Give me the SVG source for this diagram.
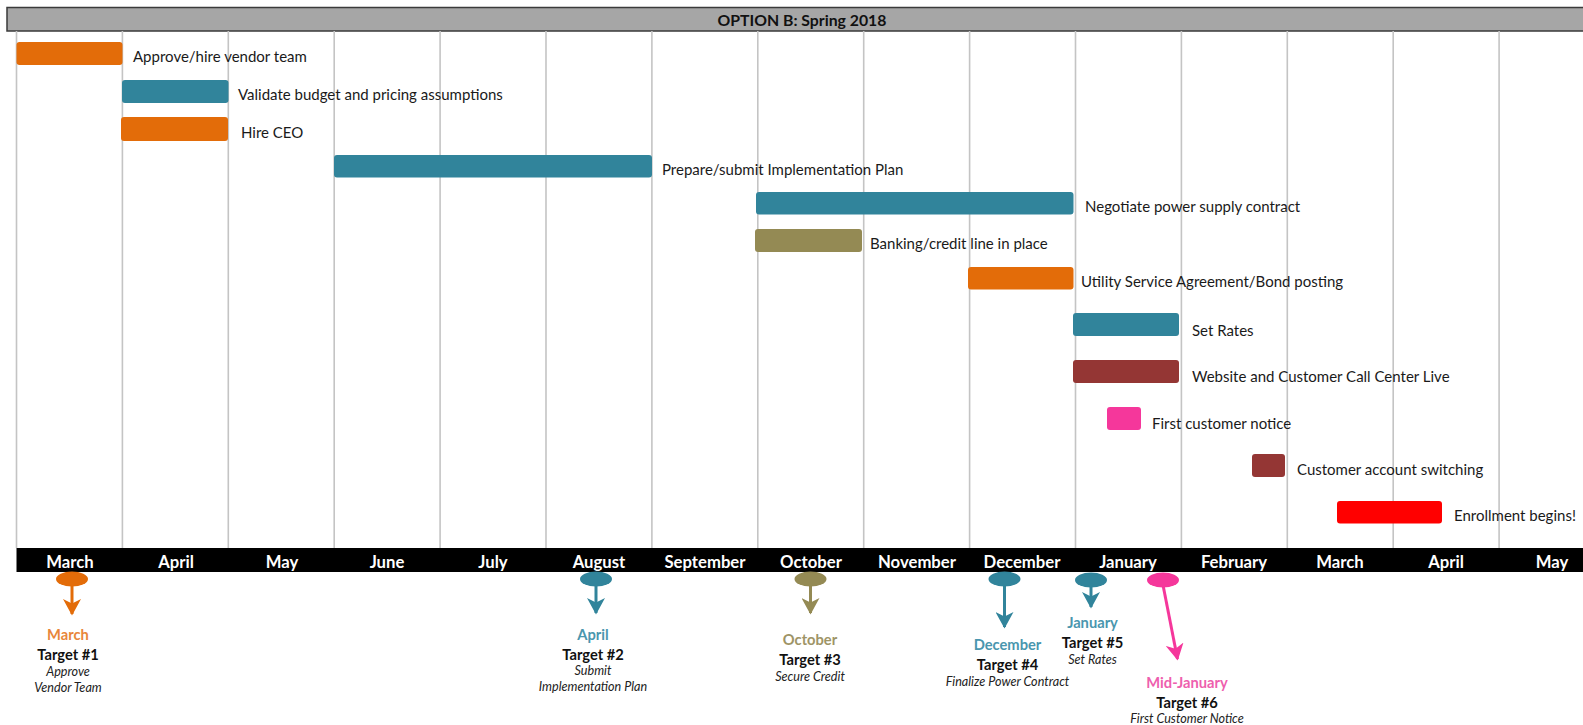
<svg xmlns="http://www.w3.org/2000/svg" width="1583" height="725" viewBox="0 0 1583 725">
<style>
text{font-family:Lato,"Open Sans","Liberation Sans",sans-serif}
.lbl{font-size:15px;fill:#1a1a1a}
.mon{font-size:16.7px;font-weight:bold;fill:#fff;text-anchor:middle}
.grid{stroke:#c4c4c4;stroke-width:1.6}
.bar{rx:3;ry:3}
.tt{font-size:14.7px;font-weight:bold;fill:#111;text-anchor:middle}
.tm{font-size:14.7px;font-weight:bold;text-anchor:middle}
.td{font-size:12.6px;font-style:italic;fill:#222;text-anchor:middle}
.or{fill:#E36C09}.te{fill:#31849B}.ol{fill:#948A54}.dr{fill:#943634}.pk{fill:#F5379B}.rd{fill:#FF0000}
</style>
<defs>
<marker id="ah-or" markerWidth="6" markerHeight="6" refX="5" refY="3" orient="auto" markerUnits="strokeWidth"><path d="M0,0 L5.5,3 L0,6 L1.5,3 Z" fill="#E36C09"/></marker>
<marker id="ah-te" markerWidth="6" markerHeight="6" refX="5" refY="3" orient="auto" markerUnits="strokeWidth"><path d="M0,0 L5.5,3 L0,6 L1.5,3 Z" fill="#31849B"/></marker>
<marker id="ah-ol" markerWidth="6" markerHeight="6" refX="5" refY="3" orient="auto" markerUnits="strokeWidth"><path d="M0,0 L5.5,3 L0,6 L1.5,3 Z" fill="#948A54"/></marker>
<marker id="ah-pk" markerWidth="6" markerHeight="6" refX="5" refY="3" orient="auto" markerUnits="strokeWidth"><path d="M0,0 L5.5,3 L0,6 L1.5,3 Z" fill="#F5379B"/></marker>
</defs>
<rect width="1583" height="725" fill="#fff"/>

<g id="header">
<rect x="7" y="7.5" width="1580" height="23.5" fill="#a6a6a6" stroke="#3a3a3a" stroke-width="1.5"/>
<text x="802" y="25.5" font-size="15.8" font-weight="bold" text-anchor="middle" fill="#111">OPTION B: Spring 2018</text>
</g>

<g id="grid">
<line class="grid" x1="16.5" y1="31" x2="16.5" y2="548"/>
<line class="grid" x1="122.4" y1="31" x2="122.4" y2="548"/>
<line class="grid" x1="228.3" y1="31" x2="228.3" y2="548"/>
<line class="grid" x1="334.2" y1="31" x2="334.2" y2="548"/>
<line class="grid" x1="440.1" y1="31" x2="440.1" y2="548"/>
<line class="grid" x1="546" y1="31" x2="546" y2="548"/>
<line class="grid" x1="651.9" y1="31" x2="651.9" y2="548"/>
<line class="grid" x1="757.8" y1="31" x2="757.8" y2="548"/>
<line class="grid" x1="863.7" y1="31" x2="863.7" y2="548"/>
<line class="grid" x1="969.6" y1="31" x2="969.6" y2="548"/>
<line class="grid" x1="1075.5" y1="31" x2="1075.5" y2="548"/>
<line class="grid" x1="1181.4" y1="31" x2="1181.4" y2="548"/>
<line class="grid" x1="1287.3" y1="31" x2="1287.3" y2="548"/>
<line class="grid" x1="1393.2" y1="31" x2="1393.2" y2="548"/>
<line class="grid" x1="1499.1" y1="31" x2="1499.1" y2="548"/>
</g>

<g id="months">
<rect x="16.5" y="548" width="1570" height="24" fill="#000"/>
<text class="mon" x="70" y="567.5">March</text>
<text class="mon" x="176" y="567.5">April</text>
<text class="mon" x="282" y="567.5">May</text>
<text class="mon" x="387" y="567.5">June</text>
<text class="mon" x="493" y="567.5">July</text>
<text class="mon" x="599" y="567.5">August</text>
<text class="mon" x="705" y="567.5">September</text>
<text class="mon" x="811" y="567.5">October</text>
<text class="mon" x="917" y="567.5">November</text>
<text class="mon" x="1022" y="567.5">December</text>
<text class="mon" x="1128" y="567.5">January</text>
<text class="mon" x="1234" y="567.5">February</text>
<text class="mon" x="1340" y="567.5">March</text>
<text class="mon" x="1446" y="567.5">April</text>
<text class="mon" x="1552" y="567.5">May</text>
</g>

<g id="task1"><rect class="bar or" x="16.5" y="42" width="106" height="23"/><text class="lbl" x="133" y="62">Approve/hire vendor team</text></g>
<g id="task2"><rect class="bar te" x="122" y="80" width="106.5" height="23"/><text class="lbl" x="238" y="100">Validate budget and pricing assumptions</text></g>
<g id="task3"><rect class="bar or" x="121" y="117" width="107" height="24"/><text class="lbl" x="241" y="138">Hire CEO</text></g>
<g id="task4"><rect class="bar te" x="334" y="155" width="318" height="22.5"/><text class="lbl" x="662" y="175">Prepare/submit Implementation Plan</text></g>
<g id="task5"><rect class="bar te" x="756" y="192" width="317.5" height="22.5"/><text class="lbl" x="1085" y="212">Negotiate power supply contract</text></g>
<g id="task6"><rect class="bar ol" x="755" y="229" width="107" height="23"/><text class="lbl" x="870" y="249">Banking/credit line in place</text></g>
<g id="task7"><rect class="bar or" x="968" y="267" width="105.5" height="22.5"/><text class="lbl" x="1081" y="287">Utility Service Agreement/Bond posting</text></g>
<g id="task8"><rect class="bar te" x="1073" y="313" width="106" height="23"/><text class="lbl" x="1192" y="335.5">Set Rates</text></g>
<g id="task9"><rect class="bar dr" x="1073" y="360" width="106" height="23"/><text class="lbl" x="1192" y="382">Website and Customer Call Center Live</text></g>
<g id="task10"><rect class="bar pk" x="1107" y="407" width="34" height="23"/><text class="lbl" x="1152" y="429">First customer notice</text></g>
<g id="task11"><rect class="bar dr" x="1252" y="454" width="33" height="23"/><text class="lbl" x="1297" y="475">Customer account switching</text></g>
<g id="task12"><rect class="bar rd" x="1337" y="501" width="105" height="22.5"/><text class="lbl" x="1454" y="521">Enrollment begins!</text></g>

<g id="connectors" stroke-width="3" fill="none">
<line x1="72" y1="584" x2="72" y2="614" stroke="#E36C09" marker-end="url(#ah-or)"/>
<line x1="596" y1="584" x2="596" y2="613" stroke="#31849B" marker-end="url(#ah-te)"/>
<line x1="810.5" y1="584" x2="810.5" y2="613" stroke="#948A54" marker-end="url(#ah-ol)"/>
<line x1="1004.5" y1="584" x2="1004.5" y2="627" stroke="#31849B" marker-end="url(#ah-te)"/>
<line x1="1091" y1="585" x2="1091" y2="607" stroke="#31849B" marker-end="url(#ah-te)"/>
<line x1="1163" y1="585" x2="1177.5" y2="659" stroke="#F5379B" marker-end="url(#ah-pk)"/>
</g>

<g id="target1">
<ellipse class="or" cx="72" cy="579" rx="16" ry="7.5"/>
<text class="tm" x="68" y="640" fill="#E8863A">March</text>
<text class="tt" x="68" y="660">Target #1</text>
<text class="td" x="68" y="676">Approve</text>
<text class="td" x="68" y="692">Vendor Team</text>
</g>
<g id="target2">
<ellipse class="te" cx="596" cy="579" rx="16" ry="7.5"/>
<text class="tm" x="593" y="640" fill="#4A96AE">April</text>
<text class="tt" x="593" y="660">Target #2</text>
<text class="td" x="593" y="675">Submit</text>
<text class="td" x="593" y="691">Implementation Plan</text>
</g>
<g id="target3">
<ellipse class="ol" cx="810.5" cy="579" rx="16" ry="7.5"/>
<text class="tm" x="810" y="645" fill="#9E9466">October</text>
<text class="tt" x="810" y="665">Target #3</text>
<text class="td" x="810" y="681">Secure Credit</text>
</g>
<g id="target4">
<ellipse class="te" cx="1004.5" cy="579" rx="16" ry="7.5"/>
<text class="tm" x="1007.5" y="650" fill="#4A96AE">December</text>
<text class="tt" x="1007.5" y="670">Target #4</text>
<text class="td" x="1007.5" y="686">Finalize Power Contract</text>
</g>
<g id="target5">
<ellipse class="te" cx="1091" cy="580" rx="16" ry="7.5"/>
<text class="tm" x="1092.5" y="628" fill="#4A96AE">January</text>
<text class="tt" x="1092.5" y="648">Target #5</text>
<text class="td" x="1092.5" y="664">Set Rates</text>
</g>
<g id="target6">
<ellipse class="pk" cx="1163" cy="580" rx="16" ry="7.5"/>
<text class="tm" x="1187" y="688" fill="#EE5FAE">Mid-January</text>
<text class="tt" x="1187" y="708">Target #6</text>
<text class="td" x="1187" y="722.5">First Customer Notice</text>
</g>
</svg>
